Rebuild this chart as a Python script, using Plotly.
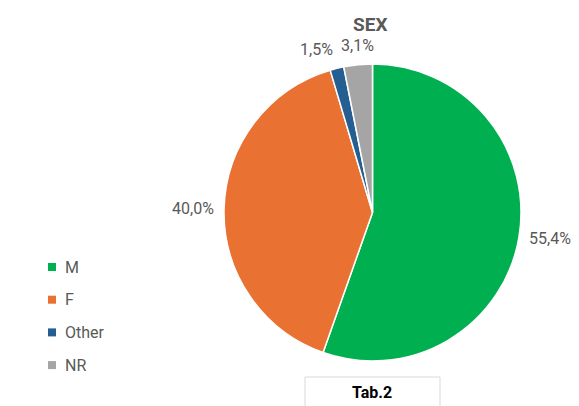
import math
import plotly.graph_objects as go

labels = ["M", "F", "Other", "NR"]
values = [55.4, 40.0, 1.5, 3.1]
colors = ["#00B050", "#E97132", "#255E91", "#A5A5A5"]
title = "SEX"
caption = "Tab.2"

W, H = 579, 406
FONT = "Roboto"
GREY = "#595959"

# pie geometry (pixels)
cx, cy, R = 372.5, 212.5, 148.5

fig = go.Figure(go.Pie(
    labels=labels, values=values, sort=False, direction="clockwise", rotation=0,
    marker=dict(colors=colors, line=dict(color="white", width=1.5)),
    textinfo="none",
    domain=dict(x=[(cx - R) / W, (cx + R) / W], y=[1 - (cy + R) / H, 1 - (cy - R) / H]),
    showlegend=False, hoverinfo="label+percent",
))

shapes = []
annotations = []

# data labels outside the slices
total = sum(values)
cum = 0.0
for v in values:
    mid = (cum + v / 2) / total * 2 * math.pi
    cum += v
    dx, dy = math.sin(mid), -math.cos(mid)
    r = R + 8
    px, py = cx + dx * r, cy + dy * r
    xa = "center" if abs(dx) < 0.15 else ("left" if dx > 0 else "right")
    ya = "middle" if abs(dy) < 0.5 else ("top" if dy > 0 else "bottom")
    annotations.append(dict(text=f"{v / total * 100:.1f}%".replace(".", ","),
                            xref="paper", yref="paper", x=px / W, y=1 - py / H,
                            xanchor=xa, yanchor=ya, showarrow=False,
                            font=dict(family=FONT, size=16, color=GREY)))

# legend
leg_x0, leg_y0, leg_dy = 48, 267, 32.7
for i, (lab, col) in enumerate(zip(labels, colors)):
    yc = leg_y0 + i * leg_dy
    shapes.append(dict(type="rect", xref="paper", yref="paper",
                       x0=leg_x0 / W, x1=(leg_x0 + 8) / W,
                       y0=1 - (yc + 4) / H, y1=1 - (yc - 4) / H,
                       fillcolor=col, line=dict(width=0)))
    annotations.append(dict(text=lab, xref="paper", yref="paper",
                            x=63 / W, y=1 - yc / H, xanchor="left", yanchor="middle",
                            showarrow=False, font=dict(family=FONT, size=16, color=GREY)))

# caption box
shapes.append(dict(type="rect", xref="paper", yref="paper",
                   x0=305 / W, x1=440 / W, y0=-0.05, y1=1 - 377 / H,
                   fillcolor="white", line=dict(color="#D9D9D9", width=1)))
annotations.append(dict(text=f"<b>{caption}</b>", xref="paper", yref="paper",
                        x=372 / W, y=1 - 392 / H, xanchor="center", yanchor="middle",
                        showarrow=False, font=dict(family=FONT, size=16, color="#000000")))
annotations.append(dict(text=f"<b>{title}</b>", xref="paper", yref="paper",
                        x=369.5 / W, y=1 - 24 / H, xanchor="center", yanchor="middle",
                        showarrow=False, font=dict(family=FONT, size=19, color=GREY)))

fig.update_layout(width=W, height=H, margin=dict(l=0, r=0, t=0, b=0),
                  paper_bgcolor="white", plot_bgcolor="white",
                  shapes=shapes, annotations=annotations)
fig.write_html("out.html")
